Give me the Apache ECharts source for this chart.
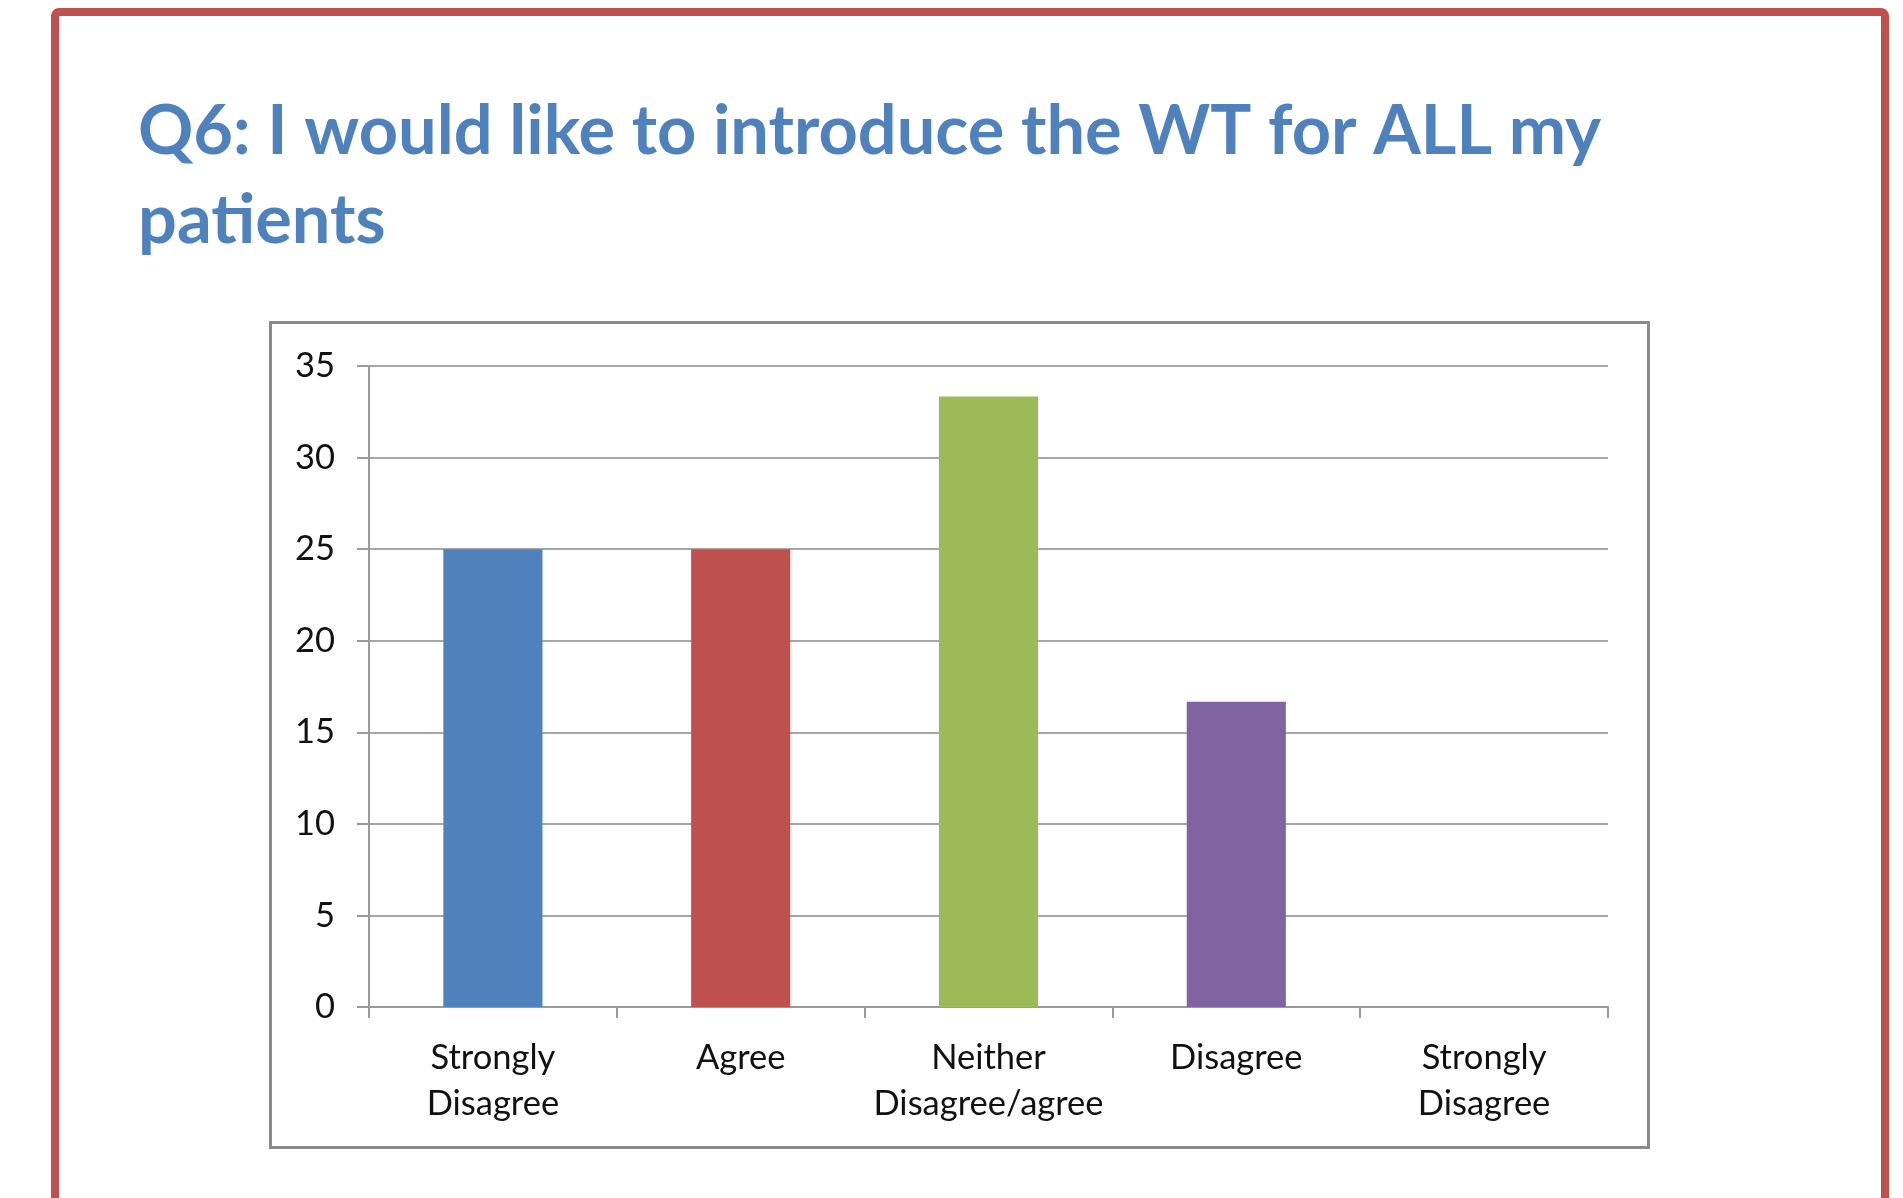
<!DOCTYPE html>
<html>
<head>
<meta charset="utf-8">
<script src="https://cdn.jsdelivr.net/npm/echarts@6/dist/echarts.min.js"></script>
<style>
html,body{margin:0;padding:0;background:#fff;}
#c{width:1903px;height:1198px;}
</style>
</head>
<body>
<div id="c"></div>
<script>
const titleText = "Q6: I would like to introduce the WT for ALL my\npatients";
const categories = ["Strongly\nDisagree", "Agree", "Neither\nDisagree/agree", "Disagree", "Strongly\nDisagree"];
const values = [25, 25, 33.33, 16.67, 0];
const barColors = ["#4F81BD", "#C0504D", "#9BBB59", "#8064A2", "#4BACC6"];
const yTicks = { min: 0, max: 35, interval: 5 };

const chart = echarts.init(document.getElementById('c'), null, { renderer: 'canvas' });
chart.setOption({
  backgroundColor: '#fff',
  animation: false,
  title: {
    text: titleText,
    left: 133,
    top: 82,
    textStyle: {
      fontFamily: 'Lato',
      fontWeight: 'bold',
      fontSize: 68.5,
      lineHeight: 89,
      color: '#4F81BD'
    }
  },
  graphic: [
    {
      type: 'rect',
      shape: { x: 55, y: 12, width: 1830, height: 1260, r: 4 },
      style: { fill: 'none', stroke: '#C0504D', lineWidth: 8 },
      z: 100
    },
    {
      type: 'rect',
      shape: { x: 270.5, y: 322.5, width: 1378, height: 825 },
      style: { fill: 'none', stroke: '#8a8a8a', lineWidth: 3 },
      z: 100
    }
  ],
  grid: { left: 369, right: 295, top: 366, bottom: 191, containLabel: false },
  xAxis: {
    type: 'category',
    data: categories,
    boundaryGap: true,
    axisLine: { show: true, lineStyle: { color: '#9a9a9a', width: 2 } },
    axisTick: { show: true, length: 11, interval: 0, alignWithLabel: false, lineStyle: { color: '#9a9a9a', width: 2 } },
    axisLabel: {
      interval: 0,
      margin: 28,
      fontFamily: 'Lato',
      fontSize: 34.5,
      lineHeight: 46,
      color: '#111'
    }
  },
  yAxis: {
    type: 'value',
    min: yTicks.min,
    max: yTicks.max,
    interval: yTicks.interval,
    axisLine: { show: true, lineStyle: { color: '#9a9a9a', width: 2 } },
    axisTick: { show: true, length: 12, lineStyle: { color: '#9a9a9a', width: 2 } },
    splitLine: { show: true, lineStyle: { color: '#a6a6a6', width: 2 } },
    axisLabel: {
      margin: 34,
      fontFamily: 'Lato',
      fontSize: 34.5,
      color: '#111'
    }
  },
  series: [{
    type: 'bar',
    data: values.map((v, i) => ({ value: v, itemStyle: { color: barColors[i] } })),
    barWidth: '40%'
  }]
});
</script>
</body>
</html>
